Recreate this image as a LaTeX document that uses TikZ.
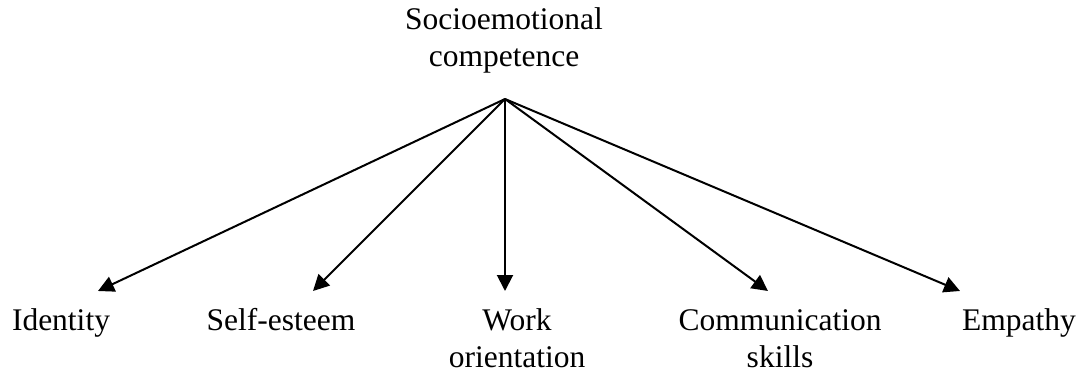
\documentclass[tikz,border=0pt]{standalone}
\usepackage{fontspec}
\setmainfont{Liberation Serif}
\usetikzlibrary{arrows.meta}
\begin{document}
\begin{tikzpicture}[x=0.5pt,y=-0.5pt,
  lbl/.style={font=\fontsize{15.75}{18.5}\selectfont, inner sep=0pt, align=center, anchor=base},
  conn/.style={line width=1pt, -{Triangle[length=8pt,width=8pt]}}]
\useasboundingbox (0,0) rectangle (1086,379);
\node[lbl] (top) at (504,67) {Socioemotional\\competence};
\coordinate (apex) at (505,99);
\node[lbl] (id) at (61,330) {Identity};
\node[lbl] (se) at (281,330) {Self-esteem};
\node[lbl] (wo) at (517,367) {Work\\orientation};
\node[lbl] (cs) at (780,367) {Communication\\skills};
\node[lbl] (em) at (1019,330) {Empathy};
\coordinate (tid) at (98,291);
\coordinate (tse) at (313,291);
\coordinate (two) at (505,291);
\coordinate (tcs) at (768,291);
\coordinate (tem) at (960,291);
\draw[conn] (apex) -- (tid);
\draw[conn] (apex) -- (tse);
\draw[conn] (apex) -- (two);
\draw[conn] (apex) -- (tcs);
\draw[conn] (apex) -- (tem);
\end{tikzpicture}
\end{document}
